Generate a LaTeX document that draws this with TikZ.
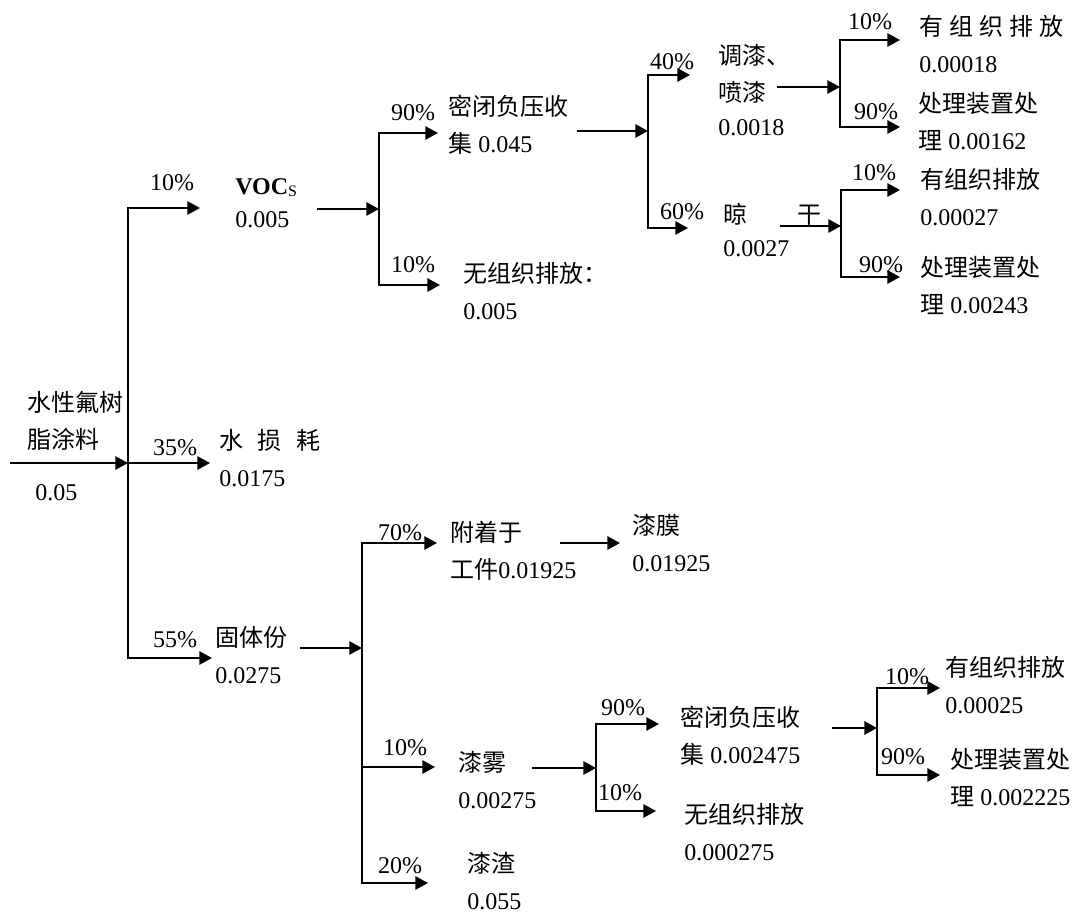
\documentclass[tikz,border=0pt]{standalone}
\usepackage{fontspec}
\setmainfont{Liberation Serif}
\newfontfamily\cjk{Noto Sans CJK SC}
\usetikzlibrary{arrows.meta,positioning}
\newcommand{\zh}[1]{{\cjk #1}}
\tikzset{
  flow/.style={-{Triangle[length=9.5pt,width=10pt]}, line width=1.3pt},
  % base = baseline of the last line
  qty/.style={anchor=base west, inner sep=0pt, align=left,
    font=\fontsize{18pt}{27.75pt}\selectfont},
  pct/.style={inner sep=0pt, font=\fontsize{18pt}{20pt}\selectfont},
}

\begin{document}
\begin{tikzpicture}[x=0.75pt, y=-0.75pt]
  \useasboundingbox (0,0) rectangle (1075,916);

  % ── Quantities ──
  \node[qty] (feed) at (27,448) {\zh{水性氟树}\\\zh{脂涂料}};
  \node[qty] (feedval) at (35,500) {0.05};
  \node[qty] (voc) at (235,228)
    {\textbf{VOC}\raisebox{-1pt}{\fontsize{12pt}{12pt}\selectfont S}\\[-3pt]0.005};
  \node[qty] (water) at (219,486) {\zh{水}\hspace{11pt}\zh{损}\hspace{11pt}\zh{耗}\\0.0175};
  \node[qty] (solid) at (215,683) {\zh{固体份}\\0.0275};
  \node[qty] (collect) at (448,153) {\zh{密闭负压收}\\\zh{集} 0.045};
  \node[qty] (fugA) at (463,320) {\zh{无组织排放：}\\0.005};
  \node[qty] (spray) at (718,136) {\zh{调漆、}\\\zh{喷漆}\\[-2pt]0.0018};
  \node[qty] (dry) at (723,257) {\zh{晾}\hspace{38pt}\zh{干}\\[-3pt]0.0027};
  \node[qty] (ventA) at (919,73)
    {\zh{有}\hspace{4.5pt}\zh{组}\hspace{4.5pt}\zh{织}\hspace{4.5pt}\zh{排}\hspace{4.5pt}\zh{放}\\0.00018};
  \node[qty] (treatA) at (918,150) {\zh{处理装置处}\\\zh{理} 0.00162};
  \node[qty] (ventB) at (920,226) {\zh{有组织排放}\\0.00027};
  \node[qty] (treatB) at (920,314) {\zh{处理装置处}\\\zh{理} 0.00243};
  \node[qty] (attach) at (450,578) {\zh{附着于}\\\zh{工件}0.01925};
  \node[qty] (film) at (632,571) {\zh{漆膜}\\0.01925};
  \node[qty] (mist) at (458,808) {\zh{漆雾}\\0.00275};
  \node[qty] (collectB) at (680,763) {\zh{密闭负压收}\\\zh{集} 0.002475};
  \node[qty] (fugB) at (684,860) {\zh{无组织排放}\\0.000275};
  \node[qty] (ventC) at (945,713) {\zh{有组织排放}\\0.00025};
  \node[qty] (treatC) at (950,805) {\zh{处理装置处}\\\zh{理} 0.002225};
  \node[qty] (slag) at (467,909) {\zh{漆渣}\\0.055};

  % ── Percentages ──
  \foreach \px/\py/\pv [count=\k] in {
      172/183/10, 175/448/35, 175/640/55,
      413/113/90, 413/265/10, 672/62/40, 682/212/60,
      870/22/10, 876/112/90, 874/173/10, 881/265/90,
      400/533/70, 405/748/10, 400/866/20,
      623/708/90, 620/793/10, 907/677/10, 903/757/90}
    \node[pct] (pct\k) at (\px,\py) {\pv\%};

  % ── Forks ──
  \coordinate (in0) at (10,463);   \coordinate (fA) at (128,463);
  \coordinate (a1) at (200,208);   \coordinate (a2) at (210,463);
  \coordinate (a3) at (212,658);
  \coordinate (bIn) at (317,209);  \coordinate (fB) at (379,209);
  \coordinate (b1) at (438,133);   \coordinate (b2) at (440,285);
  \coordinate (cIn) at (577,131);  \coordinate (fC) at (648,131);
  \coordinate (c1) at (690,75);    \coordinate (c2) at (688,228);
  \coordinate (dIn) at (777,87);   \coordinate (fD) at (840,87);
  \coordinate (d1) at (900,40);    \coordinate (d2) at (900,127);
  \coordinate (eIn) at (780,226);  \coordinate (fE) at (841,226);
  \coordinate (e1) at (900,190);   \coordinate (e2) at (900,277);
  \coordinate (fIn) at (300,648);  \coordinate (fF) at (362,648);
  \coordinate (f1) at (437,543);   \coordinate (f2) at (435,767);
  \coordinate (f3) at (428,883);
  \coordinate (kIn) at (560,543);  \coordinate (kOut) at (620,543);
  \coordinate (gIn) at (532,768);  \coordinate (fG) at (596,768);
  \coordinate (g1) at (659,724);   \coordinate (g2) at (656,811);
  \coordinate (hIn) at (832,728);  \coordinate (fH) at (877,728);
  \coordinate (h1) at (940,688);   \coordinate (h2) at (940,775);

  % ── Arrows ──
  \draw[flow] (in0) -- (fA);
  \draw[flow] (fA) |- (a1);
  \draw[flow] (fA) |- (a2);
  \draw[flow] (fA) |- (a3);
  \draw[flow] (bIn) -- (fB);
  \draw[flow] (fB) |- (b1);
  \draw[flow] (fB) |- (b2);
  \draw[flow] (cIn) -- (fC);
  \draw[flow] (fC) |- (c1);
  \draw[flow] (fC) |- (c2);
  \draw[flow] (dIn) -- (fD);
  \draw[flow] (fD) |- (d1);
  \draw[flow] (fD) |- (d2);
  \draw[flow] (eIn) -- (fE);
  \draw[flow] (fE) |- (e1);
  \draw[flow] (fE) |- (e2);
  \draw[flow] (fIn) -- (fF);
  \draw[flow] (fF) |- (f1);
  \draw[flow] (fF) |- (f2);
  \draw[flow] (fF) |- (f3);
  \draw[flow] (kIn) -- (kOut);
  \draw[flow] (gIn) -- (fG);
  \draw[flow] (fG) |- (g1);
  \draw[flow] (fG) |- (g2);
  \draw[flow] (hIn) -- (fH);
  \draw[flow] (fH) |- (h1);
  \draw[flow] (fH) |- (h2);

\end{tikzpicture}
\end{document}
